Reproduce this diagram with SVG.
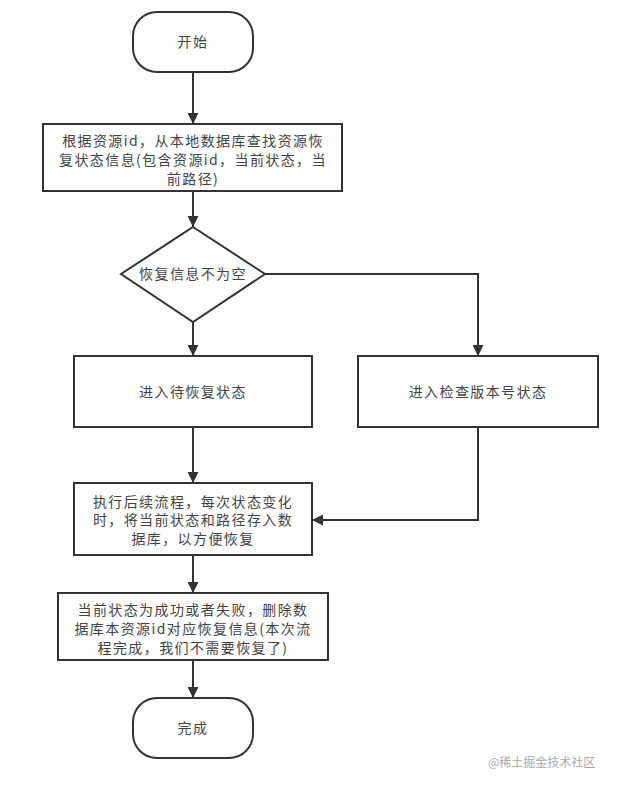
<svg xmlns="http://www.w3.org/2000/svg" width="635" height="801" viewBox="0 0 635 801">
<defs>
<style>
.n{fill:#fff;stroke:#333;stroke-width:2}
.t{font-family:"Noto Sans CJK SC","Noto Sans",sans-serif;font-size:14px;letter-spacing:1.4px;fill:#444;text-anchor:middle}
.c{fill:none;stroke:#333;stroke-width:2}
.wm{font-family:"Noto Sans CJK SC","Noto Sans",sans-serif;font-size:12px;fill:#aaa}
</style>
<marker id="ah" viewBox="0 0 10 10" refX="10" refY="5" markerWidth="11" markerHeight="11" markerUnits="userSpaceOnUse" orient="auto">
<path d="M0,0 L10,5 L0,10 z" fill="#333"/>
</marker>
</defs>
<rect width="635" height="801" fill="#fff"/>
<g id="connectors">
<path class="c" d="M193,72 V124" marker-end="url(#ah)"/>
<path class="c" d="M193,191 V227" marker-end="url(#ah)"/>
<path class="c" d="M193,322 V356" marker-end="url(#ah)"/>
<path class="c" d="M265,274 H478 V356" marker-end="url(#ah)"/>
<path class="c" d="M193,427 V483" marker-end="url(#ah)"/>
<path class="c" d="M478,427 V520 H312" marker-end="url(#ah)"/>
<path class="c" d="M193,555 V593" marker-end="url(#ah)"/>
<path class="c" d="M193,660 V698" marker-end="url(#ah)"/>
</g>
<g id="start">
<rect class="n" x="133" y="12" width="120" height="60" rx="24"/>
<text class="t" x="193" y="47">开始</text>
</g>
<g id="lookup">
<rect class="n" x="43" y="124" width="299" height="67"/>
<text class="t" x="193" y="146">根据资源id，从本地数据库查找资源恢</text>
<text class="t" x="193" y="165">复状态信息(包含资源id，当前状态，当</text>
<text class="t" x="193" y="184">前路径)</text>
</g>
<g id="decision">
<polygon class="n" points="193,227 265,274 193,322 121,274"/>
<text class="t" x="193" y="279">恢复信息不为空</text>
</g>
<g id="pending">
<rect class="n" x="74" y="356" width="238" height="71"/>
<text class="t" x="193" y="397">进入待恢复状态</text>
</g>
<g id="checkver">
<rect class="n" x="358" y="356" width="240" height="71"/>
<text class="t" x="478" y="397">进入检查版本号状态</text>
</g>
<g id="execute">
<rect class="n" x="74" y="483" width="238" height="72"/>
<text class="t" x="193" y="507">执行后续流程，每次状态变化</text>
<text class="t" x="193" y="525">时，将当前状态和路径存入数</text>
<text class="t" x="193" y="544">据库，以方便恢复</text>
</g>
<g id="cleanup">
<rect class="n" x="58" y="593" width="270" height="67"/>
<text class="t" x="193" y="615">当前状态为成功或者失败，删除数</text>
<text class="t" x="193" y="634">据库本资源id对应恢复信息(本次流</text>
<text class="t" x="193" y="653">程完成，我们不需要恢复了)</text>
</g>
<g id="end">
<rect class="n" x="133" y="698" width="120" height="60" rx="24"/>
<text class="t" x="193" y="733">完成</text>
</g>
<text class="wm" x="488" y="767">@稀土掘金技术社区</text>
</svg>
